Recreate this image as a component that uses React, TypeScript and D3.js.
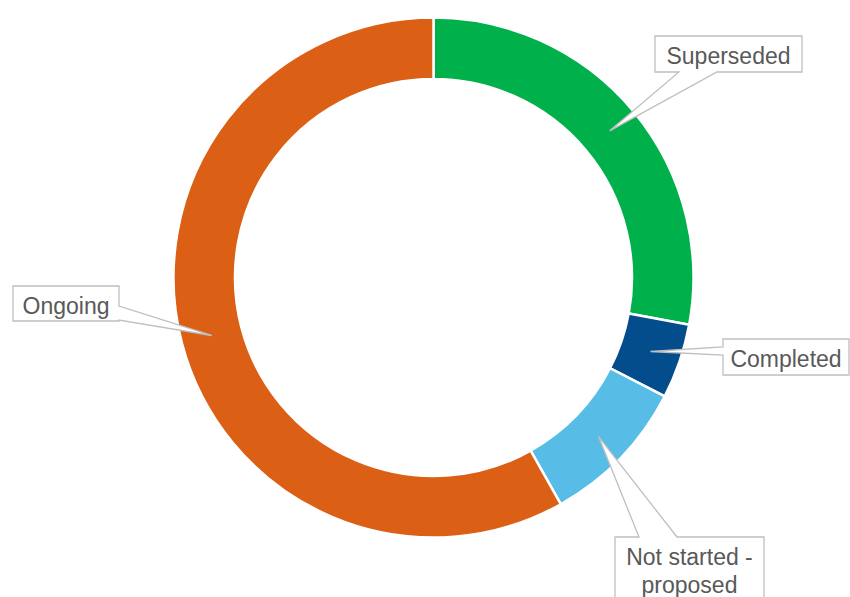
import React from "react";
import * as d3 from "d3";

const categories = ["Superseded", "Completed", "Not started - proposed", "Ongoing"];
const values = [24, 4, 8, 50];
const colors = ["#00B04A", "#044D8C", "#57BDE6", "#DB5F14"];
const labelLines = [["Superseded"], ["Completed"], ["Not started -", "proposed"], ["Ongoing"]];

// label box layout: [x0, y0, x1, y1, side, wedgeA, wedgeB]
const boxes: [number, number, number, number, string, number, number][] = [
  [655, 36, 802, 72, "bottom", 679, 717],
  [723, 339, 849, 375, "left", 347, 355],
  [615, 537, 764, 620, "top", 639, 677],
  [13, 286, 119, 321, "right", 306, 320],
];

const W = 850, H = 597;
const cx = 433.5, cy = 277.5, rOuter = 260, rInner = 198.5;

function calloutPath(b: typeof boxes[number], tip: [number, number]) {
  const [x0, y0, x1, y1, side, a, c] = b;
  const [tx, ty] = tip;
  let pts: [number, number][] = [];
  if (side === "bottom") pts = [[x0, y0], [x1, y0], [x1, y1], [c, y1], [tx, ty], [a, y1], [x0, y1]];
  else if (side === "top") pts = [[x0, y0], [a, y0], [tx, ty], [c, y0], [x1, y0], [x1, y1], [x0, y1]];
  else if (side === "left") pts = [[x0, y0], [x1, y0], [x1, y1], [x0, y1], [x0, c], [tx, ty], [x0, a]];
  else pts = [[x0, y0], [x1, y0], [x1, a], [tx, ty], [x1, c], [x1, y1], [x0, y1]];
  return "M" + pts.map((p) => p.join(",")).join("L") + "Z";
}

export default function App() {
  const pie = d3.pie<number>().sort(null).value((d) => d)(values);
  const arc = d3.arc<d3.PieArcDatum<number>>().innerRadius(rInner).outerRadius(rOuter);
  return (
    <svg width={W} height={H} style={{ position: "absolute", left: 0, top: 0 }}>
      <rect width={W} height={H} fill="#fff" />
      <g transform={`translate(${cx},${cy})`}>
        {pie.map((p, i) => (
          <path key={i} d={arc(p) || ""} fill={colors[i]} stroke="#fff" strokeWidth={2.5} />
        ))}
      </g>
      {pie.map((p, i) => {
        const c = arc.centroid(p);
        const tip: [number, number] = [c[0] + cx, c[1] + cy];
        const b = boxes[i];
        const midX = (b[0] + b[2]) / 2;
        const lines = labelLines[i];
        const top = b[1];
        return (
          <g key={i}>
            <path d={calloutPath(b, tip)} fill="#fff" stroke="#BFBFBF" strokeWidth={1.3} />
            {lines.map((t, j) => (
              <text
                key={j}
                x={midX}
                y={top + 27.5 + j * 28}
                textAnchor="middle"
                fontFamily="Liberation Sans, Arial, sans-serif"
                fontSize={23}
                fill="#595959"
              >
                {t}
              </text>
            ))}
          </g>
        );
      })}
    </svg>
  );
}
